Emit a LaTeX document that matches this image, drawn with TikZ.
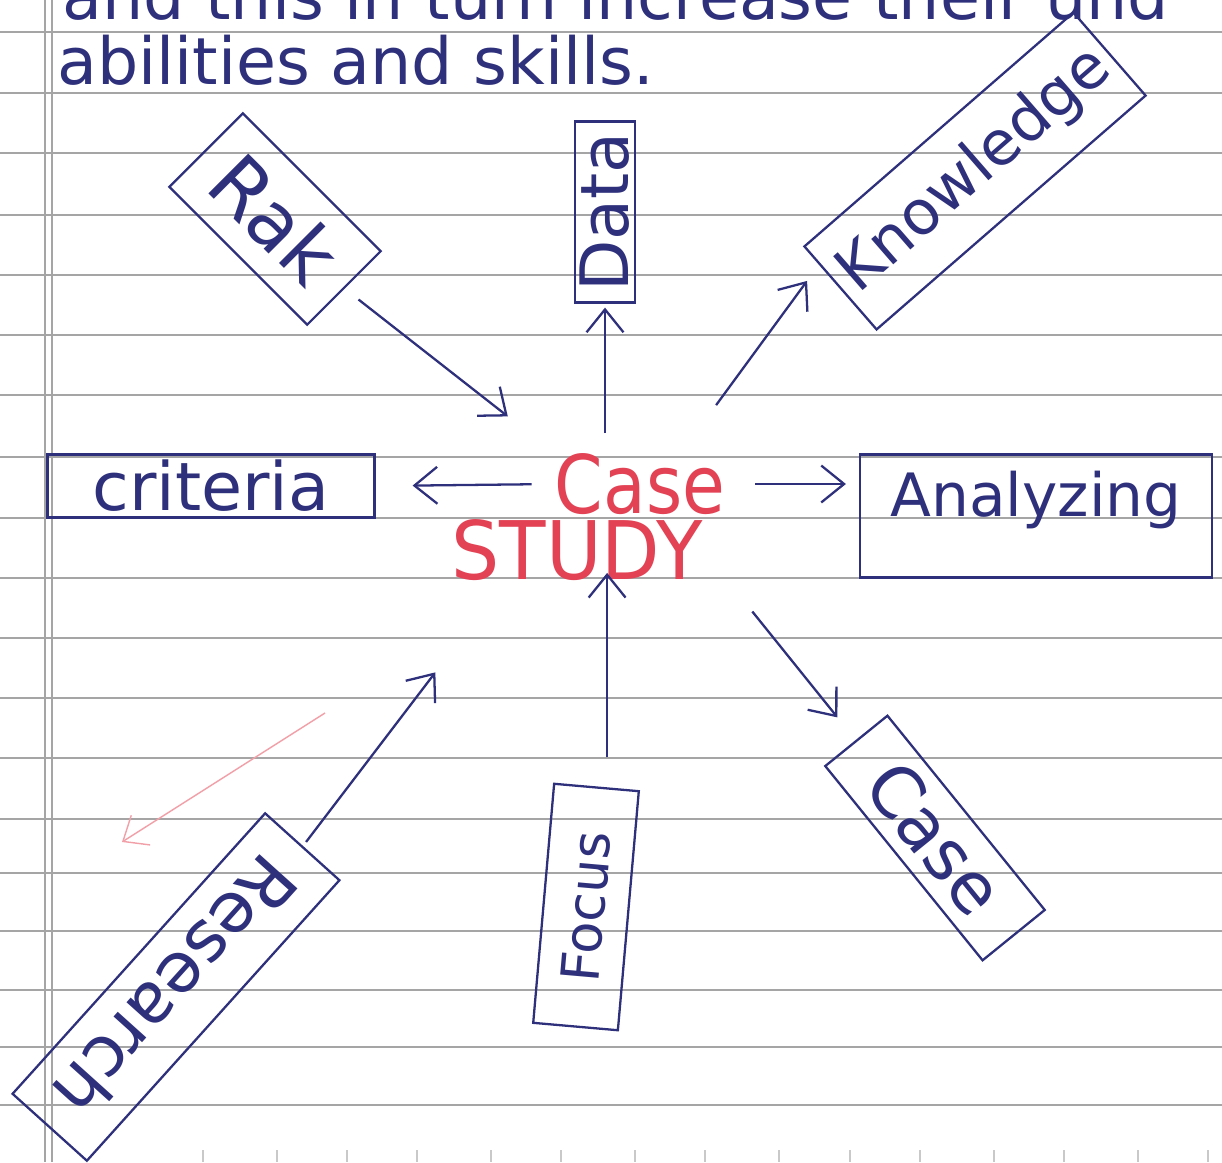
\documentclass[tikz,border=0pt]{standalone}
\usepackage{fontspec}
\setmainfont{DejaVu Sans}
\usepackage{xcolor}
\definecolor{ink}{RGB}{46,48,124}
\definecolor{casered}{RGB}{226,66,84}
\definecolor{strayred}{RGB}{242,160,168}
\definecolor{ruling}{RGB}{165,165,165}
\usetikzlibrary{arrows.meta}

\begin{document}
\begin{tikzpicture}[x=0.02cm, y=-0.02cm,
    idea/.style={draw=ink, line width=1.3pt, text=ink, inner sep=2pt},
    link/.style={draw=ink, line width=1.3pt, -{Straight Barb[length=13pt,width=21pt]}},
    hand/.style={text=ink, inner sep=0pt, anchor=base west, font=\fontsize{37}{40}\selectfont}]

    \fill[white] (0,0) rectangle (1222,1162);
    \useasboundingbox (0,0) rectangle (1222,1162);

    \foreach \y in {32,93,153,215,275,335,395,457,518,578,638,698,758,819,873,931,990,1047,1105}
        \draw[ruling, line width=0.9pt] (0,\y) -- (1222,\y);
    \draw[ruling, line width=0.9pt] (45,0) -- (45,1162);
    \draw[ruling, line width=0.6pt] (52,0) -- (52,1162);
    \foreach \x in {203,277,347,417,491,561,635,705,779,850,920,994,1064,1138,1208}
        \draw[ruling!60, line width=0.6pt] (\x,1150) -- (\x,1162);

    \node[hand] (prevline) at (62,20) {and this in turn increase their und};
    \node[hand] (skills) at (57,85) {abilities and skills.};

    % centre
    \node[text=casered, inner sep=0pt, xscale=0.86, font=\fontsize{46}{50}\selectfont] (casew) at (640,484) {Case};
    \node[text=casered, inner sep=0pt, xscale=0.94, font=\fontsize{46}{50}\selectfont] (study) at (577,550) {STUDY};

    \node[idea, minimum width=6.54cm, minimum height=1.26cm, font=\fontsize{38}{40}\selectfont] (criteria) at (211,486) {criteria};
    \node[idea, minimum width=7.04cm, minimum height=2.46cm, text height=0.9cm, text depth=0.9cm, font=\fontsize{34}{38}\selectfont] (analyzing) at (1036,516) {Analyzing};
    \node[idea, rotate=90, minimum width=3.62cm, minimum height=1.2cm, font=\fontsize{38}{40}\selectfont] (data) at (605,212) {Data};
    \node[idea, rotate=-45, minimum width=3.9cm, minimum height=2.08cm, font=\fontsize{44}{48}\selectfont] (rak) at (275,219) {Rak};
    \node[idea, rotate=41, minimum width=7.13cm, minimum height=2.2cm, font=\fontsize{35}{38}\selectfont] (knowledge) at (975,171) {Knowledge};
    \node[idea, rotate=-51, minimum width=5cm, minimum height=1.6cm, font=\fontsize{40}{44}\selectfont] (casebox) at (935,838) {Case};
    \node[idea, rotate=85, minimum width=4.8cm, minimum height=1.7cm, font=\fontsize{30}{34}\selectfont] (focus) at (586,907) {Focus};
    \node[idea, rotate=-132, minimum width=7.55cm, minimum height=2cm, font=\fontsize{40}{44}\selectfont] (research) at (176,987) {Research};

    \draw[link, shorten <=0.35cm, shorten >=1.19cm] (rak.east) -- (casew.north west);
    \draw[link, shorten <=0.4cm, shorten >=0.08cm] (data.west |- casew.north) -- (data.west);
    \draw[link, shorten <=1.19cm, shorten >=0.4cm] (casew.33) -- (knowledge.170);
    \draw[link, shorten <=0.46cm, shorten >=0.74cm] (casew.west) -- (criteria.east);
    \draw[link, shorten <=0.6cm, shorten >=0.26cm] (casew.east) -- (casew.east -| analyzing.west);
    \draw[link, shorten <=1.58cm, shorten >=0.58cm] (study.east) -- (casebox.west);
    \draw[link, shorten <=0.6cm, shorten >=-0.16cm] (focus.-5) -- (focus.-5 |- study.south);
    \draw[link, shorten <=0.1cm, shorten >=2.3cm] (research.west) -- (study.-158);

    \coordinate (strayA) at (325,713);
    \coordinate (strayB) at (122,842);
    \draw[strayred, line width=0.8pt, -{Straight Barb[length=12pt,width=20pt]}] (strayA) -- (strayB);

\end{tikzpicture}
\end{document}
